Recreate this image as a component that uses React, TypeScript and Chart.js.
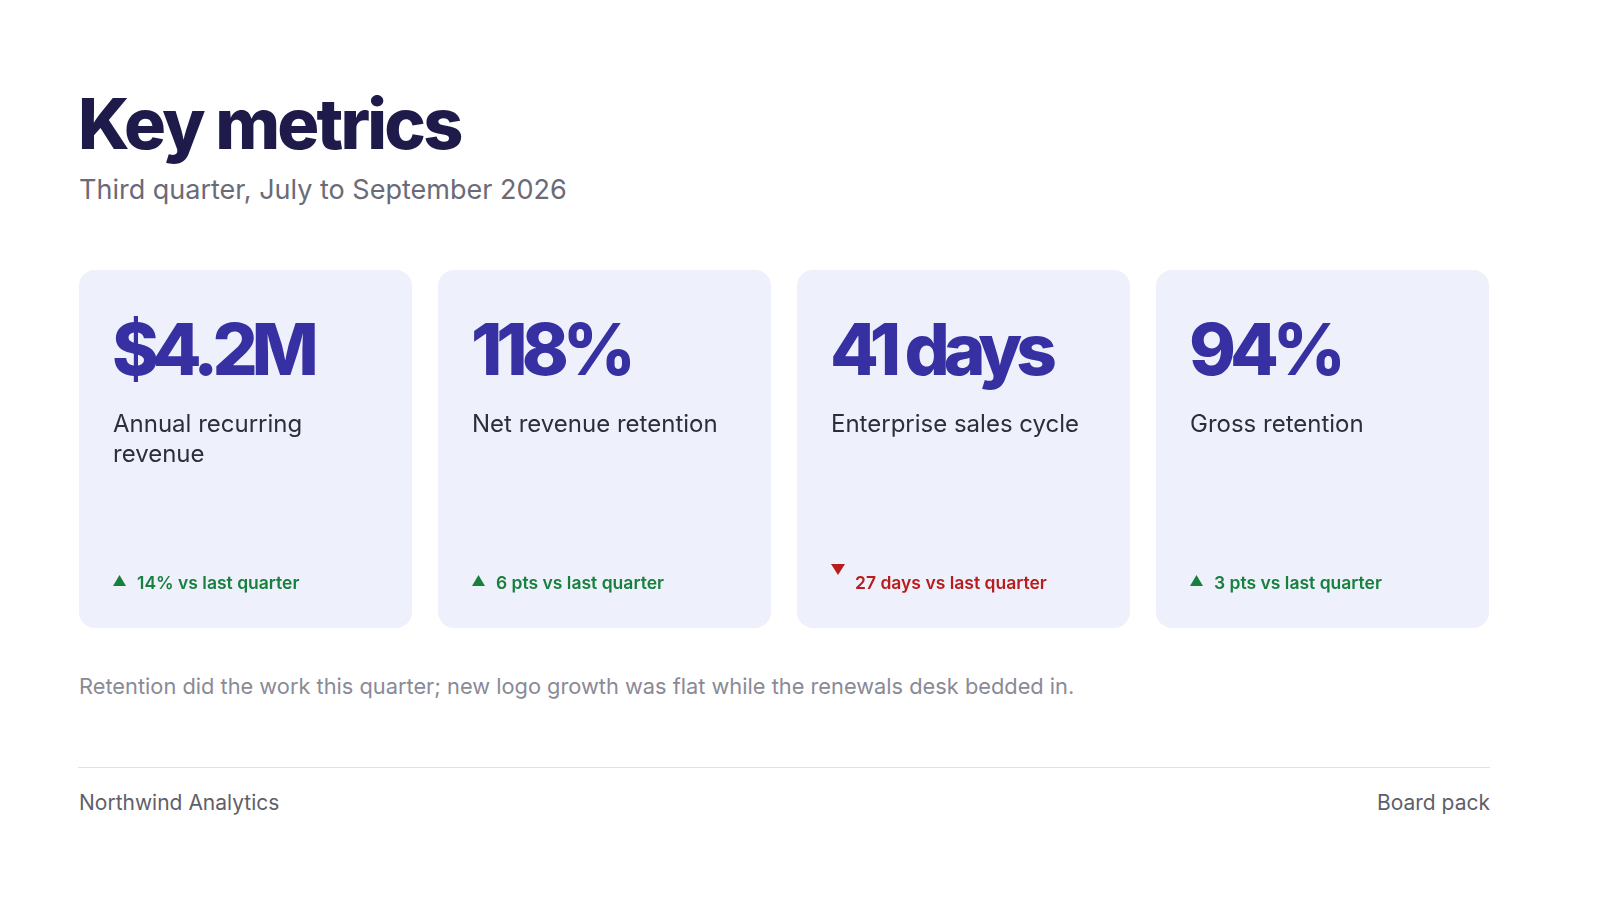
import React, { useEffect, useRef } from "react";
import { Chart, registerables, ChartConfiguration, Plugin } from "chart.js";

Chart.register(...registerables);

// slide text
const pageTitle = "Key metrics";
const pageSubtitle = "Third quarter, July to September 2026";
const footnote =
  "Retention did the work this quarter; new logo growth was flat while the renewals desk bedded in.";
const footerLeft = "Northwind Analytics";
const footerRight = "Board pack";

// one card per metric
const cardValues = ["$4.2M", "118%", "41 days", "94%"];
const cardLabels = [
  "Annual recurring revenue",
  "Net revenue retention",
  "Enterprise sales cycle",
  "Gross retention",
];
const deltaTexts = [
  "14% vs last quarter",
  "6 pts vs last quarter",
  "27 days vs last quarter",
  "3 pts vs last quarter",
];
const deltaUp = [true, true, false, true];

const FONT = "Inter, 'Noto Sans', sans-serif";

function wrapLines(ctx: CanvasRenderingContext2D, text: string, maxWidth: number) {
  const words = text.split(" ");
  const lines: string[] = [];
  let line = "";
  words.forEach((w) => {
    const test = line ? line + " " + w : w;
    if (ctx.measureText(test).width > maxWidth && line) {
      lines.push(line);
      line = w;
    } else {
      line = test;
    }
  });
  if (line) lines.push(line);
  return lines;
}

// draws the text of each card on top of its bar
const cardText: Plugin<"bar"> = {
  id: "cardText",
  afterDatasetsDraw(chart) {
    const ctx = chart.ctx;
    const meta = chart.getDatasetMeta(0);
    meta.data.forEach((bar, i) => {
      const { x, y, base, width } = bar.getProps(["x", "y", "base", "width"], true) as any;
      const left = x - width / 2;
      const top = Math.min(y, base);
      const bottom = Math.max(y, base);
      const padX = 34;

      ctx.save();
      ctx.textBaseline = "alphabetic";
      ctx.textAlign = "left";

      // big value
      ctx.fillStyle = "#3730a3";
      ctx.font = `800 71px ${FONT}`;
      (ctx as any).letterSpacing = "-6px";
      ctx.fillText(cardValues[i], left + padX - 1, top + 105);

      // label
      (ctx as any).letterSpacing = "0px";
      ctx.fillStyle = "#2e2e3a";
      ctx.font = `400 24px ${FONT}`;
      const lines = wrapLines(ctx, cardLabels[i], width - padX * 2);
      lines.forEach((l, k) => ctx.fillText(l, left + padX, top + 162 + k * 30));

      // delta line
      const up = deltaUp[i];
      const color = up ? "#17803d" : "#b91c1c";
      const baseY = bottom - 39;
      ctx.fillStyle = color;
      ctx.beginPath();
      if (up) {
        ctx.moveTo(left + padX, baseY - 3);
        ctx.lineTo(left + padX + 13, baseY - 3);
        ctx.lineTo(left + padX + 6.5, baseY - 14);
      } else {
        ctx.moveTo(left + padX, baseY - 25);
        ctx.lineTo(left + padX + 14, baseY - 25);
        ctx.lineTo(left + padX + 7, baseY - 14);
      }
      ctx.closePath();
      ctx.fill();
      ctx.font = `600 17.5px ${FONT}`;
      ctx.fillText(deltaTexts[i], left + padX + 24, baseY);
      ctx.restore();
    });
  },
};

function MetricCards() {
  const canvasRef = useRef<HTMLCanvasElement>(null);

  useEffect(() => {
    if (!canvasRef.current) return;
    const config: ChartConfiguration<"bar", [number, number][], string> = {
      type: "bar",
      data: {
        labels: cardLabels,
        datasets: [
          {
            data: cardValues.map(() => [0, 1] as [number, number]),
            backgroundColor: "#eef0fb",
            borderRadius: 16,
            borderSkipped: false,
            barPercentage: 1,
            categoryPercentage: 333 / 359,
          },
        ],
      },
      options: {
        animation: false,
        responsive: true,
        maintainAspectRatio: false,
        layout: { padding: 0 },
        scales: {
          x: { display: false },
          y: { display: false, min: 0, max: 1 },
        },
        plugins: {
          legend: { display: false },
          tooltip: { enabled: false },
        },
      },
      plugins: [cardText],
    };
    const chart = new Chart(canvasRef.current, config);
    return () => chart.destroy();
  }, []);

  return (
    <div style={{ position: "absolute", left: 66, top: 270, width: 1436, height: 358 }}>
      <canvas ref={canvasRef} />
    </div>
  );
}

export default function App() {
  return (
    <div
      style={{
        position: "absolute",
        left: 0,
        top: 0,
        width: 1600,
        height: 900,
        background: "#ffffff",
        fontFamily: FONT,
        overflow: "hidden",
      }}
    >
      <div
        style={{
          position: "absolute",
          left: 78,
          top: 89,
          fontSize: 70,
          lineHeight: "70px",
          fontWeight: 800,
          letterSpacing: "-0.04em",
          color: "#1e1b4b",
          whiteSpace: "nowrap",
        }}
      >
        {pageTitle}
      </div>
      <div
        style={{
          position: "absolute",
          left: 79,
          top: 176,
          fontSize: 27,
          lineHeight: "27px",
          color: "#6b6b78",
          whiteSpace: "nowrap",
        }}
      >
        {pageSubtitle}
      </div>
      <MetricCards />
      <div
        style={{
          position: "absolute",
          left: 79,
          top: 675,
          fontSize: 21.8,
          lineHeight: "22px",
          color: "#8a8a96",
          whiteSpace: "nowrap",
        }}
      >
        {footnote}
      </div>
      <div
        style={{
          position: "absolute",
          left: 78,
          top: 767,
          width: 1412,
          height: 1,
          background: "#e2e2e6",
        }}
      />
      <div
        style={{
          position: "absolute",
          left: 79,
          top: 792,
          fontSize: 21,
          lineHeight: "21px",
          color: "#5f5f6b",
          whiteSpace: "nowrap",
        }}
      >
        {footerLeft}
      </div>
      <div
        style={{
          position: "absolute",
          right: 110,
          top: 792,
          fontSize: 21,
          lineHeight: "21px",
          color: "#5f5f6b",
          whiteSpace: "nowrap",
        }}
      >
        {footerRight}
      </div>
    </div>
  );
}
